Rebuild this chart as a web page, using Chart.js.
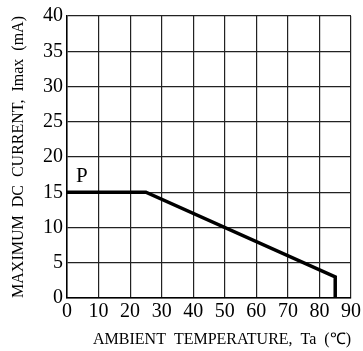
<!DOCTYPE html>
<html>
<head>
<meta charset="utf-8">
<script src="https://cdn.jsdelivr.net/npm/chart.js@4"></script>
<style>
    body { margin: 0; background: #fff; }
</style>
</head>
<body>
<canvas id="grafico" width="363" height="351"></canvas>
<script>
// curva de derating
const temperaturas = [0, 25, 85, 85];
const correntes = [15, 15, 3, 0];
const ticksX = [0, 10, 20, 30, 40, 50, 60, 70, 80, 90];
const ticksY = [0, 5, 10, 15, 20, 25, 30, 35, 40];
const rotulo = { texto: 'P', x: 4.7, y: 17.2 };

const fonteSerif = "'Liberation Serif', 'Times New Roman', serif";

const rotuloPlugin = {
    id: 'rotuloP',
    afterDatasetsDraw(chart) {
        const c = chart.ctx;
        c.save();
        c.font = '21px ' + fonteSerif;
        c.fillStyle = '#000';
        c.textAlign = 'center';
        c.textBaseline = 'middle';
        c.fillText(rotulo.texto, chart.scales.x.getPixelForValue(rotulo.x), chart.scales.y.getPixelForValue(rotulo.y));
        c.restore();
    }
};

const ctx = document.getElementById('grafico').getContext('2d');
new Chart(ctx, {
    type: 'line',
    data: {
        datasets: [{
            data: temperaturas.map((t, i) => ({ x: t, y: correntes[i] })),
            borderColor: '#000',
            borderWidth: 3.5,
            pointRadius: 0,
            tension: 0,
            clip: false
        }]
    },
    options: {
        responsive: false,
        animation: false,
        layout: { padding: { top: 12, right: 9, left: 0, bottom: 0 } },
        plugins: {
            legend: { display: false },
            tooltip: { enabled: false }
        },
        scales: {
            x: {
                type: 'linear',
                min: 0,
                max: 90,
                afterBuildTicks: (s) => { s.ticks = ticksX.map(v => ({ value: v })); },
                afterFit: (s) => { s.height = 53; },
                grid: { color: '#222', lineWidth: 1.2, drawTicks: false },
                border: { color: '#000', width: 1.5 },
                ticks: {
                    color: '#000',
                    padding: 2,
                    maxRotation: 0,
                    font: { family: fonteSerif, size: 20 }
                },
                title: {
                    display: true,
                    text: 'AMBIENT  TEMPERATURE,  Ta  (℃)',
                    align: 'end',
                    color: '#000',
                    padding: { top: 0, bottom: 2 },
                    font: { family: fonteSerif, size: 16 }
                }
            },
            y: {
                min: 0,
                max: 40,
                afterBuildTicks: (s) => { s.ticks = ticksY.map(v => ({ value: v })); },
                afterFit: (s) => { s.width = 67; },
                grid: { color: '#222', lineWidth: 1.2, drawTicks: false },
                border: { color: '#000', width: 1.5 },
                ticks: {
                    color: '#000',
                    padding: 4,
                    font: { family: fonteSerif, size: 20 }
                },
                title: {
                    display: true,
                    text: 'MAXIMUM  DC  CURRENT,  Imax  (mA)',
                    color: '#000',
                    padding: { top: 9, bottom: 0 },
                    font: { family: fonteSerif, size: 16 }
                }
            }
        }
    },
    plugins: [rotuloPlugin]
});
</script>
</body>
</html>
